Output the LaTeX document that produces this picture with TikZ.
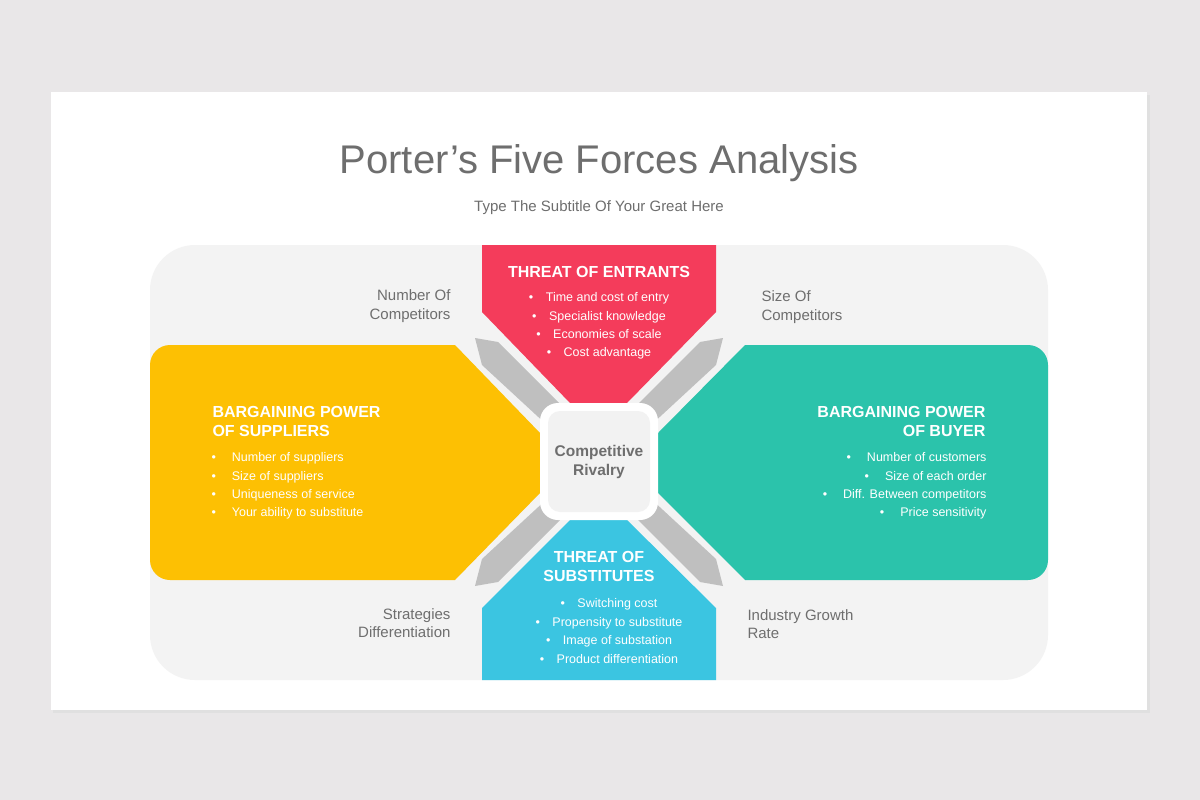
\documentclass[tikz,border=0pt]{standalone}
\usepackage{fontspec}
\setmainfont{Liberation Sans}
\definecolor{bgc}{HTML}{E9E7E8}
\definecolor{panel}{HTML}{F3F3F3}
\definecolor{redc}{HTML}{F43C5B}
\definecolor{yelc}{HTML}{FDC003}
\definecolor{teac}{HTML}{2BC3AB}
\definecolor{bluc}{HTML}{3BC5E1}
\definecolor{arrc}{HTML}{BFBFBF}
\definecolor{txtc}{HTML}{6E6E6E}
\begin{document}
\begin{tikzpicture}[x=1pt,y=-1pt,
  hdr/.style={text=white,font=\fontsize{16}{19}\selectfont\bfseries,align=center},
  bul/.style={text=white,font=\fontsize{12.5}{18.4}\selectfont},
  side/.style={text=txtc,font=\fontsize{15}{18.5}\selectfont},
  arr/.style={fill=arrc}]
\useasboundingbox (0,0) rectangle (1200,800);
\fill[bgc] (0,0) rectangle (1200,800);
\fill[black!12] (53,95) rectangle (1150,713);
\fill[white] (51,92) rectangle (1147,710);
\fill[panel,rounded corners=45] (150,245) rectangle (1048,680);
% arrows
\fill[arr] (475,338) -- (498,342) -- (565,409) -- (548,426) -- (482,365) -- cycle;
\fill[arr] (723,338) -- (700,342) -- (633,409) -- (650,426) -- (716,365) -- cycle;
\fill[arr] (475,586) -- (498,582) -- (565,515) -- (548,498) -- (482,559) -- cycle;
\fill[arr] (723,586) -- (700,582) -- (633,515) -- (650,498) -- (716,559) -- cycle;
% shapes
\fill[redc] (482,245) -- (716,245) -- (716,312) -- (627,403) -- (570,403) -- (482,312) -- cycle;
\fill[bluc] (482,680) -- (716,680) -- (716,608) -- (627,520) -- (570,520) -- (482,608) -- cycle;
\fill[yelc] (455,345) -- (540,433) -- (540,493) -- (455,580) [rounded corners=20] -- (150,580) -- (150,345) [sharp corners] -- cycle;
\fill[teac] (745,345) -- (658,433) -- (658,493) -- (745,580) [rounded corners=20] -- (1048,580) -- (1048,345) [sharp corners] -- cycle;
% center
\fill[white,rounded corners=18] (540,403) rectangle (658,520);
\fill[black!5,rounded corners=12] (548,411) rectangle (650,512);
\node[text=txtc,font=\fontsize{15.5}{19}\selectfont\bfseries,align=center] (cr) at (599,462) {Competitive\\Rivalry};
% titles
\node[text=txtc,font=\fontsize{40}{44}\selectfont] (title) at (599,163) {Porter’s Five Forces Analysis};
\node[text=txtc,font=\fontsize{15}{18}\selectfont] (sub) at (599,208) {Type The Subtitle Of Your Great Here};
% red
\node[hdr] (rh) at (599,272) {THREAT OF ENTRANTS};
\node[bul,align=center] (rb) at (599,326) {•\quad Time and cost of entry\\•\quad Specialist knowledge\\•\quad Economies of scale\\•\quad Cost advantage};
% blue
\node[hdr,font=\fontsize{16}{19}\selectfont\bfseries] (bh) at (599,566) {THREAT OF\\SUBSTITUTES};
\node[bul,align=center] (bb) at (609,631) {•\quad Switching cost\\•\quad Propensity to substitute\\•\quad Image of substation\\•\quad Product differentiation};
% yellow
\node[hdr,align=left,anchor=west] (yh) at (209,421) {BARGAINING POWER\\OF SUPPLIERS};
\node[bul,align=left,anchor=west] (yb) at (208,486) {•\quad\ Number of suppliers\\•\quad\ Size of suppliers\\•\quad\ Uniqueness of service\\•\quad\ Your ability to substitute};
% teal
\node[hdr,align=right,anchor=east] (th) at (989,421) {BARGAINING POWER\\OF BUYER};
\node[bul,align=right,anchor=east] (tb) at (990,486) {•\quad\ Number of customers\\•\quad\ Size of each order\\•\quad\ Diff. Between competitors\\•\quad\ Price sensitivity};
% side labels
\node[side,align=right,anchor=east] (s1) at (454,306) {Number Of\\Competitors};
\node[side,align=left,anchor=west] (s2) at (758,307) {Size Of\\Competitors};
\node[side,align=right,anchor=east] (s3) at (454,623) {Strategies\\Differentiation};
\node[side,align=left,anchor=west] (s4) at (744,624) {Industry Growth\\Rate};
\end{tikzpicture}
\end{document}
